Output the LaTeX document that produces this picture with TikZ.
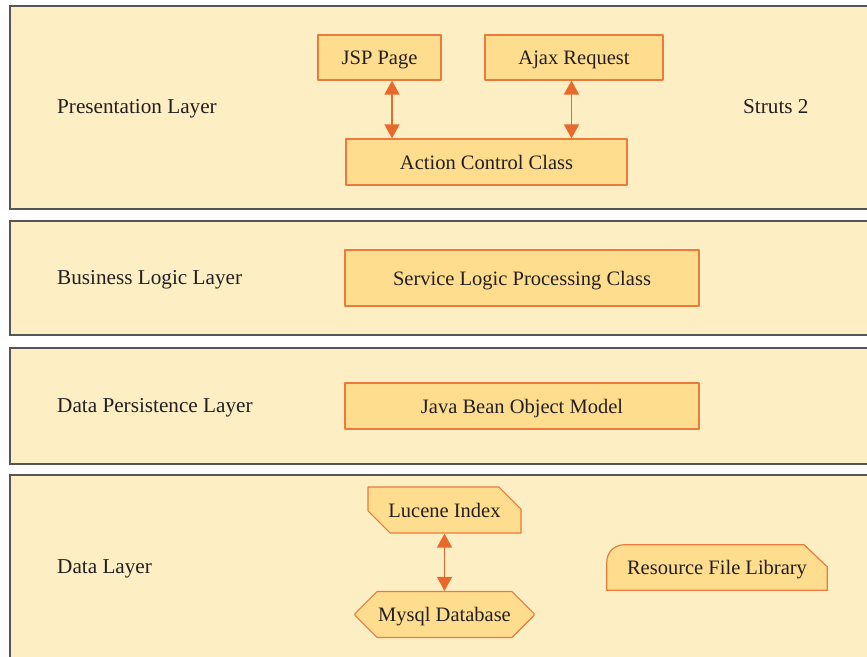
\documentclass[tikz,border=0pt]{standalone}
\usepackage{fontspec}
\setmainfont{Liberation Serif}
\usetikzlibrary{arrows.meta,shapes.misc,backgrounds}
\definecolor{layerfill}{HTML}{FDEEC4}
\definecolor{boxfill}{HTML}{FFDD8E}
\definecolor{boxline}{HTML}{EC7A3C}
\definecolor{arrowline}{HTML}{E8692B}
\definecolor{layerline}{HTML}{555555}
\definecolor{textcol}{HTML}{231F20}

\begin{document}
\begin{tikzpicture}[x=1pt, y=-1pt, line join=round,
    font=\fontsize{20.5}{24}\selectfont, text=textcol,
    layerbox/.style={draw=layerline, line width=1.4pt, fill=layerfill},
    layerlabel/.style={anchor=west, inner sep=0pt, text depth=0pt, font=\fontsize{21.2}{25}\selectfont},
    compbox/.style={draw=boxline, line width=1.2pt, fill=boxfill, inner sep=0pt, text depth=0pt},
    dblarrow/.style={draw=arrowline, line width=1.6pt,
        {Triangle[width=15pt,length=14pt]}-{Triangle[width=15pt,length=14pt]}}]
    \useasboundingbox (0,0) rectangle (867,656);
    \clip (0,0) rectangle (867,656);

    % Layer bands (run past the right and bottom edges)
    \begin{scope}[on background layer]
        \draw[layerbox] (10,6)   rectangle (890,209);
        \draw[layerbox] (10,221) rectangle (890,335);
        \draw[layerbox] (10,348) rectangle (890,464);
        \draw[layerbox] (10,475) rectangle (890,690);
    \end{scope}

    % Layer labels
    \node[layerlabel] (presLabel) at (57,106) {Presentation Layer};
    \node[layerlabel] (bizLabel)  at (57,277) {Business Logic Layer};
    \node[layerlabel] (persLabel) at (57,405) {Data Persistence Layer};
    \node[layerlabel] (dataLabel) at (57,567) {Data Layer};
    \node[layerlabel] (struts)    at (743,106) {Struts 2};

    % Presentation layer components
    \node[compbox, minimum width=123pt, minimum height=45pt] (jsp)    at (379.5,57.5) {JSP Page};
    \node[compbox, minimum width=178pt, minimum height=45pt] (ajax)   at (574,57.5)   {Ajax Request};
    \node[compbox, minimum width=281pt, minimum height=46pt] (action) at (486.5,162)  {Action Control Class};

    % Business logic and persistence components
    \node[compbox, minimum width=354pt, minimum height=56pt] (service) at (522,278) {Service Logic Processing Class};
    \node[compbox, minimum width=354pt, minimum height=46pt] (bean)    at (522,406) {Java Bean Object Model};

    % Data layer components
    \node[compbox, chamfered rectangle, chamfered rectangle corners={north east,south west},
        chamfered rectangle xsep=14pt, chamfered rectangle ysep=15pt,
        minimum width=153pt, minimum height=46pt] (lucene) at (444.5,510) {Lucene Index};
    \node[compbox, chamfered rectangle,
        chamfered rectangle xsep=13pt, chamfered rectangle ysep=15pt,
        minimum width=179pt, minimum height=46pt] (mysql) at (444.5,614.5) {Mysql Database};
    \node[inner sep=0pt, text depth=0pt, minimum width=220pt, minimum height=45pt] (resource) at (717,567.5) {Resource File Library};
    \begin{scope}[on background layer]
        \draw[compbox] (resource.south west) -- ([yshift=-17pt]resource.north west)
            arc[start angle=180, end angle=90, radius=17pt]
            -- ([xshift=-23pt]resource.north east) -- ([yshift=-22pt]resource.north east)
            -- (resource.south east) -- cycle;
    \end{scope}

    % Connectors
    \draw[dblarrow] ([xshift=12.5pt]jsp.south)  -- ([xshift=12.5pt]jsp.south |- action.north);
    \draw[dblarrow] ([xshift=-2.5pt]ajax.south) -- ([xshift=-2.5pt]ajax.south |- action.north);
    \draw[dblarrow] (lucene.south) -- (mysql.north);
\end{tikzpicture}
\end{document}
